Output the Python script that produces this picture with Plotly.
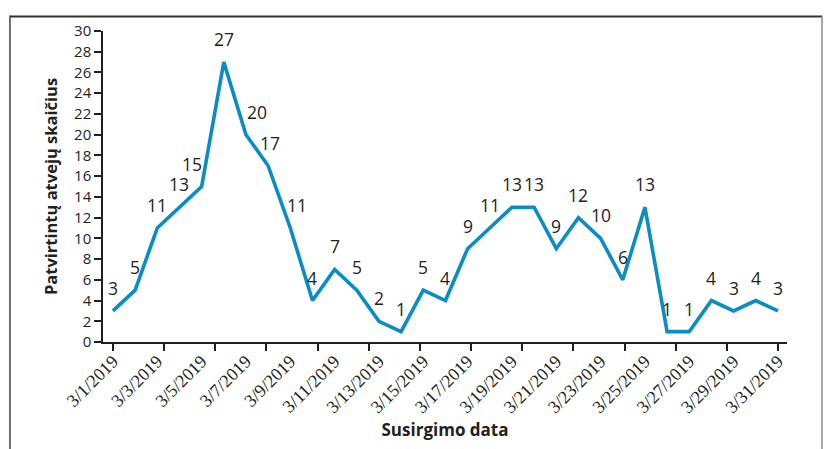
import plotly.graph_objects as go

# ---- data ----
dates = ["3/1/2019", "3/2/2019", "3/3/2019", "3/4/2019", "3/5/2019", "3/6/2019",
         "3/7/2019", "3/8/2019", "3/9/2019", "3/10/2019", "3/11/2019", "3/12/2019",
         "3/13/2019", "3/14/2019", "3/15/2019", "3/16/2019", "3/17/2019", "3/18/2019",
         "3/19/2019", "3/20/2019", "3/21/2019", "3/22/2019", "3/23/2019", "3/24/2019",
         "3/25/2019", "3/26/2019", "3/27/2019", "3/28/2019", "3/29/2019", "3/30/2019",
         "3/31/2019"]
cases = [3, 5, 11, 13, 15, 27, 20, 17, 11, 4, 7, 5, 2, 1, 5, 4, 9, 11, 13, 13,
         9, 12, 10, 6, 13, 1, 1, 4, 3, 4, 3]
tick_labels = dates[::2]
y_title = "Patvirtintų atvejų skaičius"
x_title = "Susirgimo data"

# ---- style ----
FONT = "Open Sans, Noto Sans, sans-serif"
SERIF = "Liberation Serif, DejaVu Serif, serif"
TXT = "#231f20"
BLUE = "#0a8dc3"
label_nudge = {"3/5/2019": -10, "3/7/2019": 11, "3/8/2019": 2, "3/9/2019": 7}

fig = go.Figure()
fig.add_trace(go.Scatter(x=dates, y=cases, mode="lines",
                         line=dict(color=BLUE, width=3.6),
                         showlegend=False, hoverinfo="x+y"))
# helper (empty) trace so the secondary tick axis is drawn
fig.add_trace(go.Scatter(x=[], y=[], xaxis="x2", showlegend=False))

for d, v in zip(dates, cases):
    fig.add_annotation(x=d, y=v, text=str(v), showarrow=False,
                       yshift=23, xshift=label_nudge.get(d, 0),
                       font=dict(family=FONT, size=17.5, color=TXT))

# page body has an 8px margin, so the figure is 8px smaller than the window
fig.update_layout(
    width=825, height=441,
    margin=dict(l=95, r=46, t=16, b=105),
    paper_bgcolor="white", plot_bgcolor="white",
    font=dict(family=FONT, color=TXT),
    xaxis=dict(type="category", categoryorder="array", categoryarray=dates,
               range=[-0.45, 30.41], showline=True, linecolor=TXT, linewidth=1.5,
               ticks="", tickmode="array", tickvals=tick_labels, ticktext=tick_labels,
               tickangle=-45, tickfont=dict(family=SERIF, size=18, color=TXT),
               showgrid=False, zeroline=False,
               title=dict(text="<b>" + x_title + "</b>", standoff=8,
                          font=dict(family=FONT, size=17, color=TXT))),
    xaxis2=dict(overlaying="x", anchor="y", side="bottom", range=[-0.196, 13.176],
                tickmode="linear", tick0=0, dtick=1, ticks="outside", ticklen=8,
                tickwidth=1.5, tickcolor=TXT, showticklabels=False,
                showgrid=False, showline=False, zeroline=False),
    yaxis=dict(range=[0, 30], dtick=2, tick0=0, ticks="outside", ticklen=7,
               tickwidth=1.5, tickcolor=TXT, showline=True, linecolor=TXT,
               linewidth=1.5, showgrid=False, zeroline=False,
               tickfont=dict(family=FONT, size=15, color=TXT),
               title=dict(text="<b>" + y_title + "</b>", standoff=12,
                          font=dict(family=FONT, size=16.5, color=TXT))),
)

# outer frame of the figure panel
frame = [
    dict(x0=-0.136, x1=-0.136, y0=1.05, y1=-0.35, color="#444444", w=1.5),
    dict(x0=-0.136, x1=1.0512, y0=1.047, y1=1.047, color="#333333", w=2),
    dict(x0=1.0512, x1=1.0512, y0=1.05, y1=-0.35, color="#888888", w=1.5),
]
for f in frame:
    fig.add_shape(type="line", xref="paper", yref="paper",
                  x0=f["x0"], x1=f["x1"], y0=f["y0"], y1=f["y1"],
                  line=dict(color=f["color"], width=f["w"]))

fig.write_html("out.html")
